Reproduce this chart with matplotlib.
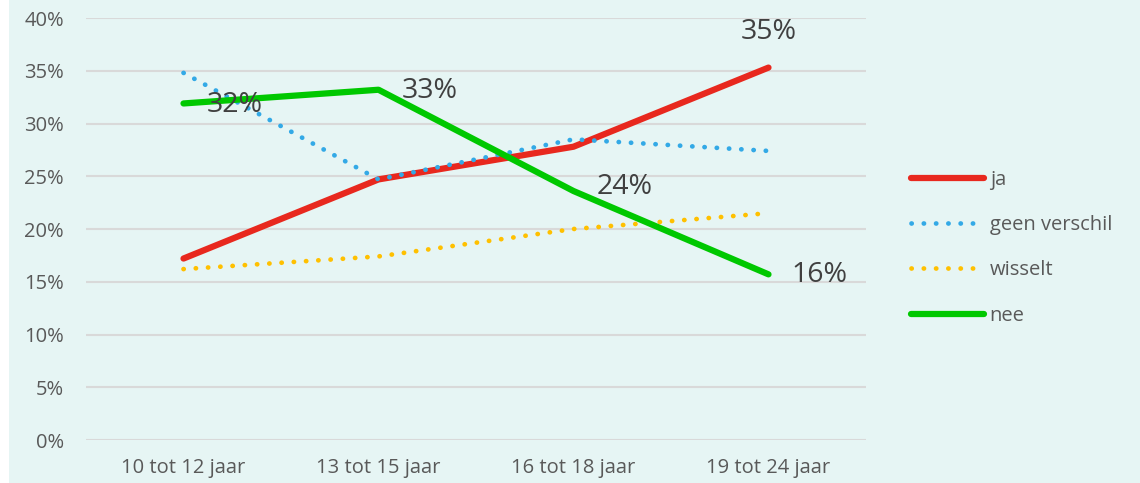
import numpy as np
import matplotlib.pyplot as plt
from matplotlib.patches import Rectangle

plt.rcParams['font.family'] = ['Open Sans', 'DejaVu Sans']

# data
categories = ['10 tot 12 jaar', '13 tot 15 jaar', '16 tot 18 jaar', '19 tot 24 jaar']
ja = [17.2, 24.7, 27.8, 35.3]
geen_verschil = [34.8, 24.7, 28.5, 27.4]
wisselt = [16.2, 17.4, 20.0, 21.5]
nee = [31.9, 33.2, 23.6, 15.7]
yticks = [0, 5, 10, 15, 20, 25, 30, 35, 40]

bg = '#e6f5f4'
txt = '#595959'

fig = plt.figure(figsize=(11.4, 4.83), dpi=100, facecolor=bg)
fig.patches.append(Rectangle((0, 0), 9 / 1140, 1, transform=fig.transFigure,
                             facecolor='white', edgecolor='none', zorder=-1))
ax = fig.add_axes([86 / 1140, 43 / 483, 780 / 1140, 422 / 483])
ax.set_facecolor(bg)

x = np.arange(len(categories))
dot = (0, (0.05, 2.55))
ax.plot(x, ja, color='#e8281e', lw=4.5, solid_capstyle='round', label='ja', zorder=3)
ax.plot(x, geen_verschil, color='#33a9e6', lw=3.4, linestyle=dot,
        dash_capstyle='round', label='geen verschil', zorder=3)
ax.plot(x, wisselt, color='#ffc000', lw=3.4, linestyle=dot,
        dash_capstyle='round', label='wisselt', zorder=3)
ax.plot(x, nee, color='#00c800', lw=4.5, solid_capstyle='round', label='nee', zorder=3)

# data labels
lab_kw = dict(fontsize=20.5, color='#404040', va='center', ha='left', zorder=4)
ax.text(x[0] + 0.12, nee[0] - 0.1, f'{nee[0]:.0f}%', **lab_kw)
ax.text(x[1] + 0.12, nee[1] - 0.1, f'{nee[1]:.0f}%', **lab_kw)
ax.text(x[2] + 0.12, nee[2] + 0.4, f'{nee[2]:.0f}%', **lab_kw)
ax.text(x[3] + 0.12, nee[3] - 0.1, f'{nee[3]:.0f}%', **lab_kw)
ax.text(x[3], ja[3] + 3.4, f'{ja[3]:.0f}%', fontsize=20.5, color='#404040',
        va='center', ha='center', zorder=4)

ax.set_xlim(-0.5, len(categories) - 0.5)
ax.set_ylim(0, 40)
ax.set_yticks(yticks)
ax.set_yticklabels([f'{v}%' for v in yticks])
ax.set_xticks(x)
ax.set_xticklabels(categories)
ax.tick_params(axis='both', length=0, labelsize=14.5, labelcolor=txt)
ax.tick_params(axis='y', pad=16)
ax.tick_params(axis='x', pad=13)
ax.grid(axis='y', color='#d9d9d9', lw=1.5, zorder=0)
ax.set_axisbelow(True)
for s in ax.spines.values():
    s.set_visible(False)

leg = fig.legend(loc='upper left', bbox_to_anchor=(903 / 1140, 1 - 162 / 483),
                 frameon=False, fontsize=14.5, handlelength=3.6, handletextpad=0.3,
                 labelspacing=1.25, borderaxespad=0)
for t in leg.get_texts():
    t.set_color(txt)

fig.savefig('out.png', dpi=100, facecolor=bg)
